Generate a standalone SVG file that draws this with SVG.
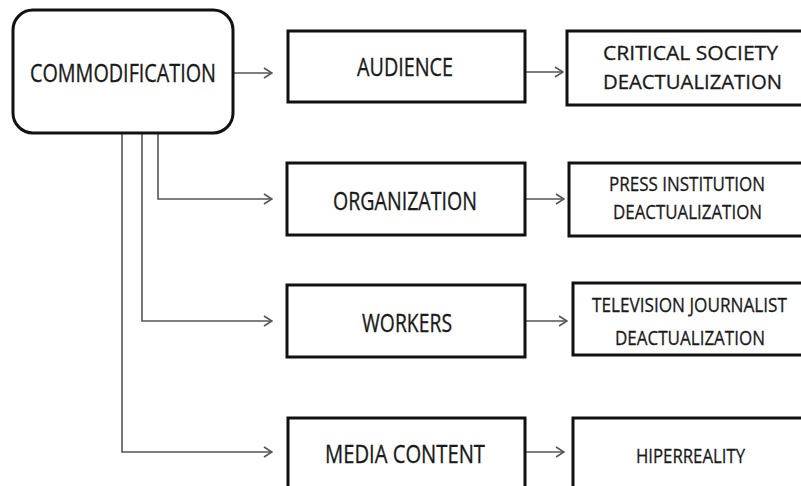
<svg xmlns="http://www.w3.org/2000/svg" width="801" height="486" viewBox="0 0 801 486">
<style>
.box{fill:#fff;stroke:#111;stroke-width:3}
.big{font-family:"Open Sans","Liberation Sans",sans-serif;font-size:25px;fill:#1a1a1a;stroke:#1a1a1a;stroke-width:0.35}
.sm{font-family:"Open Sans","Liberation Sans",sans-serif;font-size:20px;fill:#1a1a1a;stroke:#1a1a1a;stroke-width:0.3}
.con{fill:none;stroke:#555;stroke-width:1.6}
</style>
<defs>
<marker id="arr" viewBox="0 0 10 12" refX="9" refY="6" markerWidth="10" markerHeight="12" markerUnits="userSpaceOnUse" orient="auto">
<path d="M1,1 L9,6 L1,11" fill="none" stroke="#555" stroke-width="1.6"/>
</marker>
</defs>
<rect width="801" height="486" fill="#fff"/>
<g id="connectors">
<path class="con" d="M234,73 H272" marker-end="url(#arr)"/>
<path class="con" d="M526,72 H563" marker-end="url(#arr)"/>
<path class="con" d="M158,133 V199 H272" marker-end="url(#arr)"/>
<path class="con" d="M526,199 H564" marker-end="url(#arr)"/>
<path class="con" d="M142,133 V321 H272" marker-end="url(#arr)"/>
<path class="con" d="M526,321 H567" marker-end="url(#arr)"/>
<path class="con" d="M122,133 V452 H272" marker-end="url(#arr)"/>
<path class="con" d="M526,452 H564" marker-end="url(#arr)"/>
</g>
<g id="commodification">
<rect class="box" x="13" y="10" width="220" height="123" rx="20"/>
<text class="big" x="30" y="82" textLength="186" lengthAdjust="spacingAndGlyphs">COMMODIFICATION</text>
</g>
<g id="audience">
<rect class="box" x="288" y="31" width="237" height="71"/>
<text class="big" x="357" y="76" textLength="96" lengthAdjust="spacingAndGlyphs">AUDIENCE</text>
</g>
<g id="critical-society">
<rect class="box" x="567" y="31" width="260" height="74"/>
<text class="sm" x="603" y="60" textLength="175" lengthAdjust="spacingAndGlyphs">CRITICAL SOCIETY</text>
<text class="sm" x="603" y="89" textLength="179" lengthAdjust="spacingAndGlyphs">DEACTUALIZATION</text>
</g>
<g id="organization">
<rect class="box" x="287" y="163" width="238" height="72"/>
<text class="big" x="333" y="210" textLength="144" lengthAdjust="spacingAndGlyphs">ORGANIZATION</text>
</g>
<g id="press-institution">
<rect class="box" x="569" y="163" width="260" height="73"/>
<text class="sm" x="609" y="191" textLength="156" lengthAdjust="spacingAndGlyphs">PRESS INSTITUTION</text>
<text class="sm" x="613" y="219" textLength="149" lengthAdjust="spacingAndGlyphs">DEACTUALIZATION</text>
</g>
<g id="workers">
<rect class="box" x="287" y="285" width="238" height="72"/>
<text class="big" x="362" y="332" textLength="90" lengthAdjust="spacingAndGlyphs">WORKERS</text>
</g>
<g id="television-journalist">
<rect class="box" x="573" y="283" width="260" height="72"/>
<text class="sm" x="592" y="312" textLength="195" lengthAdjust="spacingAndGlyphs">TELEVISION JOURNALIST</text>
<text class="sm" x="615" y="345" textLength="150" lengthAdjust="spacingAndGlyphs">DEACTUALIZATION</text>
</g>
<g id="media-content">
<rect class="box" x="288" y="418" width="237" height="90"/>
<text class="big" x="325" y="463" textLength="160" lengthAdjust="spacingAndGlyphs">MEDIA CONTENT</text>
</g>
<g id="hiperreality">
<rect class="box" x="573" y="418" width="260" height="90"/>
<text class="sm" x="636" y="463" textLength="109" lengthAdjust="spacingAndGlyphs">HIPERREALITY</text>
</g>
</svg>
